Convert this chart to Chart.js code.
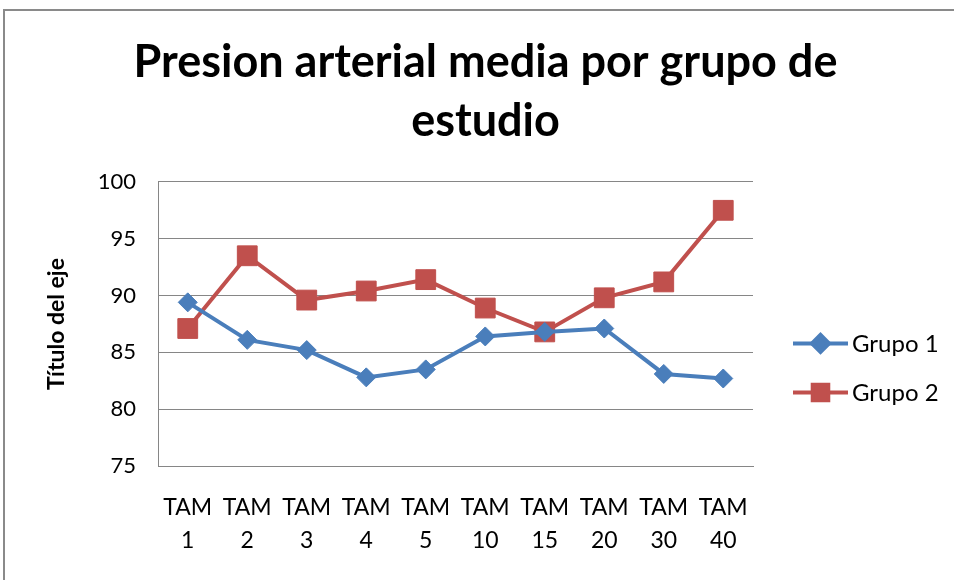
<!DOCTYPE html>
<html>
<head>
<meta charset="utf-8">
<script src="https://cdn.jsdelivr.net/npm/chart.js@4/dist/chart.umd.min.js"></script>
<style>
  body { margin: 0; background: #fff; }
  #wrap { position: relative; width: 954px; height: 580px; overflow: hidden; }
  #frame { position: absolute; left: 3px; top: 9px; width: 1000px; height: 1000px;
           border-left: 2px solid #8a8a8a; border-top: 2px solid #8a8a8a; }
  canvas { position: absolute; left: 0; top: 0; }
</style>
</head>
<body>
<div id="wrap">
  <div id="frame"></div>
  <canvas id="chart" width="954" height="580"></canvas>
</div>
<script>
// datos
const categorias = [["TAM","1"],["TAM","2"],["TAM","3"],["TAM","4"],["TAM","5"],
                    ["TAM","10"],["TAM","15"],["TAM","20"],["TAM","30"],["TAM","40"]]
const grupo1 = [89.4, 86.1, 85.2, 82.8, 83.5, 86.4, 86.8, 87.1, 83.1, 82.7]
const grupo2 = [87.1, 93.5, 89.6, 90.4, 91.4, 88.9, 86.8, 89.8, 91.2, 97.5]
const ejeY = { min: 75, max: 100, paso: 5 }

const azul = '#4a7ebb'
const rojo = '#c0504d'
const gris = '#868686'
const fuente = 'Lato, "Open Sans", sans-serif'

// leyenda a la derecha (linea + marcador como en Excel)
const leyendaExcel = {
  id: 'leyendaExcel',
  afterDraw(chart){
    const ctx = chart.ctx
    const area = chart.chartArea
    const mid = (area.top + area.bottom) / 2
    chart.data.datasets.forEach((ds, i) => {
      const y = mid + 19.5 + i * 49
      const x0 = area.right + 40
      const x1 = area.right + 95
      ctx.save()
      ctx.strokeStyle = ds.borderColor
      ctx.lineWidth = 4
      ctx.beginPath()
      ctx.moveTo(x0, y)
      ctx.lineTo(x1, y)
      ctx.stroke()
      ctx.fillStyle = ds.backgroundColor
      ctx.strokeStyle = ds.backgroundColor
      Chart.helpers.drawPoint(ctx, {
        pointStyle: ds.pointStyle,
        radius: ds.pointStyle === 'rect' ? 11 : 8.5,
        rotation: 0,
        borderWidth: 1
      }, (x0 + x1) / 2, y)
      ctx.fillStyle = '#000'
      ctx.font = '24px ' + fuente
      ctx.textAlign = 'left'
      ctx.textBaseline = 'middle'
      ctx.fillText(ds.label, x1 + 4, y + 1)
      ctx.restore()
    })
  }
}

const ctx = document.getElementById('chart').getContext('2d')
const config = {
  type: 'line',
  data: {
    labels: categorias,
    datasets: [{
      label: 'Grupo 1',
      data: grupo1,
      borderColor: azul,
      backgroundColor: azul,
      borderWidth: 4,
      pointStyle: 'rectRot',
      pointRadius: 9.5,
      pointBorderWidth: 1,
      tension: 0
    },{
      label: 'Grupo 2',
      data: grupo2,
      borderColor: rojo,
      backgroundColor: rojo,
      borderWidth: 4,
      pointStyle: 'rect',
      pointRadius: 14,
      pointBorderWidth: 1,
      tension: 0
    }]
  },
  options: {
    responsive: false,
    animation: false,
    layout: { padding: { left: 17, right: 0, top: 0, bottom: 0 } },
    plugins: {
      legend: { display: false },
      tooltip: { enabled: false },
      title: {
        display: true,
        text: ['Presion arterial media por grupo de', 'estudio'],
        color: '#000',
        font: { family: fuente, size: 45, weight: 'bold', lineHeight: 1.31 },
        padding: { top: 33, bottom: 31 }
      }
    },
    scales: {
      x: {
        offset: true,
        grid: { display: false, drawTicks: false, offset: true },
        border: { display: true, color: gris, width: 1 },
        ticks: {
          color: '#000',
          font: { family: fuente, size: 23, lineHeight: 1.43 },
          padding: 25.5,
          maxRotation: 0,
          autoSkip: false
        },
        afterFit(scale){ scale.height = 114 }
      },
      y: {
        min: ejeY.min,
        max: ejeY.max,
        grid: { color: gris, lineWidth: 1, drawTicks: false },
        border: { display: true, color: gris, width: 1 },
        ticks: {
          stepSize: ejeY.paso,
          color: '#000',
          font: { family: fuente, size: 22 },
          padding: 22
        },
        title: {
          display: true,
          text: 'Título del eje',
          color: '#000',
          font: { family: fuente, size: 23, weight: 'bold', lineHeight: 1.2 },
          padding: { top: 26, bottom: 0 }
        },
        afterFit(scale){ scale.width = 141 }
      },
      derecha: {
        type: 'linear',
        position: 'right',
        display: true,
        grid: { display: false, drawTicks: false },
        border: { display: false },
        ticks: { display: false },
        afterFit(scale){ scale.width = 201 }
      }
    }
  },
  plugins: [leyendaExcel]
}

const grafico = new Chart(ctx, config)
</script>
</body>
</html>
